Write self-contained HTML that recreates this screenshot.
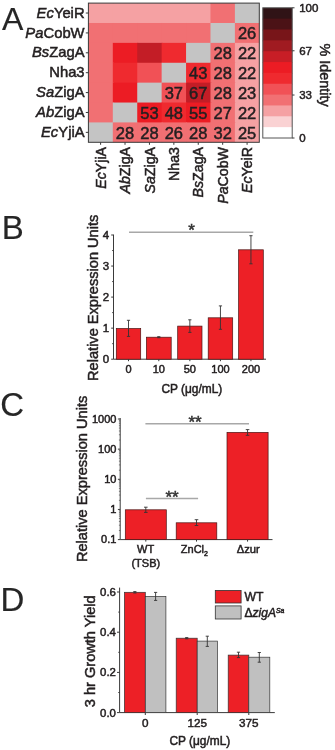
<!DOCTYPE html>
<html><head><meta charset="utf-8"><title>Figure</title>
<style>
html,body{margin:0;padding:0;background:#fff;}
body{width:335px;height:750px;overflow:hidden;}
svg{display:block;font-family:"Liberation Sans", sans-serif;filter:blur(0.35px);}
text{stroke-width:0.5px;}
</style></head>
<body>
<svg width="335" height="750" viewBox="0 0 335 750">
<rect x="0" y="0" width="335" height="750" fill="#ffffff"/>
<text x="2.00" y="30.00" font-size="32" text-anchor="start" fill="#262626" stroke="#262626" style="stroke-width:0.15px">A</text>
<text x="1.80" y="238.60" font-size="33" text-anchor="start" fill="#262626" stroke="#262626" style="stroke-width:0.15px">B</text>
<text x="0.20" y="416.20" font-size="33" text-anchor="start" fill="#262626" stroke="#262626" style="stroke-width:0.15px">C</text>
<text x="0.60" y="610.80" font-size="33" text-anchor="start" fill="#262626" stroke="#262626" style="stroke-width:0.15px">D</text>
<rect x="88.40" y="3.10" width="25.41" height="20.89" fill="#f5a1a3" stroke="none" stroke-width="0"/>
<rect x="112.81" y="3.10" width="25.41" height="20.89" fill="#f5a1a3" stroke="none" stroke-width="0"/>
<rect x="137.23" y="3.10" width="25.41" height="20.89" fill="#f5a1a3" stroke="none" stroke-width="0"/>
<rect x="161.64" y="3.10" width="25.41" height="20.89" fill="#f5a1a3" stroke="none" stroke-width="0"/>
<rect x="186.06" y="3.10" width="25.41" height="20.89" fill="#f5a1a3" stroke="none" stroke-width="0"/>
<rect x="210.47" y="3.10" width="25.41" height="20.89" fill="#f17073" stroke="none" stroke-width="0"/>
<rect x="234.89" y="3.10" width="24.41" height="20.89" fill="#c4c4c4" stroke="none" stroke-width="0"/>
<rect x="88.40" y="22.99" width="25.41" height="20.89" fill="#f17073" stroke="none" stroke-width="0"/>
<rect x="112.81" y="22.99" width="25.41" height="20.89" fill="#f17073" stroke="none" stroke-width="0"/>
<rect x="137.23" y="22.99" width="25.41" height="20.89" fill="#f17073" stroke="none" stroke-width="0"/>
<rect x="161.64" y="22.99" width="25.41" height="20.89" fill="#f17073" stroke="none" stroke-width="0"/>
<rect x="186.06" y="22.99" width="25.41" height="20.89" fill="#f17073" stroke="none" stroke-width="0"/>
<rect x="210.47" y="22.99" width="25.41" height="20.89" fill="#c4c4c4" stroke="none" stroke-width="0"/>
<rect x="234.89" y="22.99" width="24.41" height="20.89" fill="#f17073" stroke="none" stroke-width="0"/>
<rect x="88.40" y="42.87" width="25.41" height="20.89" fill="#f17073" stroke="none" stroke-width="0"/>
<rect x="112.81" y="42.87" width="25.41" height="20.89" fill="#ec1c24" stroke="none" stroke-width="0"/>
<rect x="137.23" y="42.87" width="25.41" height="20.89" fill="#c31d26" stroke="none" stroke-width="0"/>
<rect x="161.64" y="42.87" width="25.41" height="20.89" fill="#ef2a2f" stroke="none" stroke-width="0"/>
<rect x="186.06" y="42.87" width="25.41" height="20.89" fill="#c4c4c4" stroke="none" stroke-width="0"/>
<rect x="210.47" y="42.87" width="25.41" height="20.89" fill="#f17073" stroke="none" stroke-width="0"/>
<rect x="234.89" y="42.87" width="24.41" height="20.89" fill="#f5a1a3" stroke="none" stroke-width="0"/>
<rect x="88.40" y="62.76" width="25.41" height="20.89" fill="#f17073" stroke="none" stroke-width="0"/>
<rect x="112.81" y="62.76" width="25.41" height="20.89" fill="#ef2a2f" stroke="none" stroke-width="0"/>
<rect x="137.23" y="62.76" width="25.41" height="20.89" fill="#f15156" stroke="none" stroke-width="0"/>
<rect x="161.64" y="62.76" width="25.41" height="20.89" fill="#c4c4c4" stroke="none" stroke-width="0"/>
<rect x="186.06" y="62.76" width="25.41" height="20.89" fill="#ef2a2f" stroke="none" stroke-width="0"/>
<rect x="210.47" y="62.76" width="25.41" height="20.89" fill="#f17073" stroke="none" stroke-width="0"/>
<rect x="234.89" y="62.76" width="24.41" height="20.89" fill="#f5a1a3" stroke="none" stroke-width="0"/>
<rect x="88.40" y="82.64" width="25.41" height="20.89" fill="#f17073" stroke="none" stroke-width="0"/>
<rect x="112.81" y="82.64" width="25.41" height="20.89" fill="#ec1c24" stroke="none" stroke-width="0"/>
<rect x="137.23" y="82.64" width="25.41" height="20.89" fill="#c4c4c4" stroke="none" stroke-width="0"/>
<rect x="161.64" y="82.64" width="25.41" height="20.89" fill="#f15156" stroke="none" stroke-width="0"/>
<rect x="186.06" y="82.64" width="25.41" height="20.89" fill="#c31d26" stroke="none" stroke-width="0"/>
<rect x="210.47" y="82.64" width="25.41" height="20.89" fill="#f17073" stroke="none" stroke-width="0"/>
<rect x="234.89" y="82.64" width="24.41" height="20.89" fill="#f5a1a3" stroke="none" stroke-width="0"/>
<rect x="88.40" y="102.53" width="25.41" height="20.89" fill="#f17073" stroke="none" stroke-width="0"/>
<rect x="112.81" y="102.53" width="25.41" height="20.89" fill="#c4c4c4" stroke="none" stroke-width="0"/>
<rect x="137.23" y="102.53" width="25.41" height="20.89" fill="#ec1c24" stroke="none" stroke-width="0"/>
<rect x="161.64" y="102.53" width="25.41" height="20.89" fill="#ef2a2f" stroke="none" stroke-width="0"/>
<rect x="186.06" y="102.53" width="25.41" height="20.89" fill="#ec1c24" stroke="none" stroke-width="0"/>
<rect x="210.47" y="102.53" width="25.41" height="20.89" fill="#f17073" stroke="none" stroke-width="0"/>
<rect x="234.89" y="102.53" width="24.41" height="20.89" fill="#f5a1a3" stroke="none" stroke-width="0"/>
<rect x="88.40" y="122.41" width="25.41" height="19.89" fill="#c4c4c4" stroke="none" stroke-width="0"/>
<rect x="112.81" y="122.41" width="25.41" height="19.89" fill="#f17073" stroke="none" stroke-width="0"/>
<rect x="137.23" y="122.41" width="25.41" height="19.89" fill="#f17073" stroke="none" stroke-width="0"/>
<rect x="161.64" y="122.41" width="25.41" height="19.89" fill="#f17073" stroke="none" stroke-width="0"/>
<rect x="186.06" y="122.41" width="25.41" height="19.89" fill="#f17073" stroke="none" stroke-width="0"/>
<rect x="210.47" y="122.41" width="25.41" height="19.89" fill="#f17073" stroke="none" stroke-width="0"/>
<rect x="234.89" y="122.41" width="24.41" height="19.89" fill="#f5a1a3" stroke="none" stroke-width="0"/>
<text x="247.09" y="39.23" font-size="16.5" text-anchor="middle" fill="#231f20" stroke="#231f20" >26</text>
<text x="222.68" y="59.11" font-size="16.5" text-anchor="middle" fill="#231f20" stroke="#231f20" >28</text>
<text x="247.09" y="59.11" font-size="16.5" text-anchor="middle" fill="#231f20" stroke="#231f20" >22</text>
<text x="198.26" y="79.00" font-size="16.5" text-anchor="middle" fill="#231f20" stroke="#231f20" >43</text>
<text x="222.68" y="79.00" font-size="16.5" text-anchor="middle" fill="#231f20" stroke="#231f20" >28</text>
<text x="247.09" y="79.00" font-size="16.5" text-anchor="middle" fill="#231f20" stroke="#231f20" >22</text>
<text x="173.85" y="98.89" font-size="16.5" text-anchor="middle" fill="#231f20" stroke="#231f20" >37</text>
<text x="198.26" y="98.89" font-size="16.5" text-anchor="middle" fill="#231f20" stroke="#231f20" >67</text>
<text x="222.68" y="98.89" font-size="16.5" text-anchor="middle" fill="#231f20" stroke="#231f20" >28</text>
<text x="247.09" y="98.89" font-size="16.5" text-anchor="middle" fill="#231f20" stroke="#231f20" >23</text>
<text x="149.44" y="118.77" font-size="16.5" text-anchor="middle" fill="#231f20" stroke="#231f20" >53</text>
<text x="173.85" y="118.77" font-size="16.5" text-anchor="middle" fill="#231f20" stroke="#231f20" >48</text>
<text x="198.26" y="118.77" font-size="16.5" text-anchor="middle" fill="#231f20" stroke="#231f20" >55</text>
<text x="222.68" y="118.77" font-size="16.5" text-anchor="middle" fill="#231f20" stroke="#231f20" >27</text>
<text x="247.09" y="118.77" font-size="16.5" text-anchor="middle" fill="#231f20" stroke="#231f20" >22</text>
<text x="125.02" y="138.66" font-size="16.5" text-anchor="middle" fill="#231f20" stroke="#231f20" >28</text>
<text x="149.44" y="138.66" font-size="16.5" text-anchor="middle" fill="#231f20" stroke="#231f20" >28</text>
<text x="173.85" y="138.66" font-size="16.5" text-anchor="middle" fill="#231f20" stroke="#231f20" >26</text>
<text x="198.26" y="138.66" font-size="16.5" text-anchor="middle" fill="#231f20" stroke="#231f20" >28</text>
<text x="222.68" y="138.66" font-size="16.5" text-anchor="middle" fill="#231f20" stroke="#231f20" >32</text>
<text x="247.09" y="138.66" font-size="16.5" text-anchor="middle" fill="#231f20" stroke="#231f20" >25</text>
<rect x="88.40" y="3.10" width="170.90" height="139.20" fill="none" stroke="#3a3a3a" stroke-width="1"/>
<line x1="85.80" y1="13.04" x2="88.40" y2="13.04" stroke="#3a3a3a" stroke-width="1"/>
<text x="84.60" y="17.64" font-size="14.8" text-anchor="end" fill="#231f20" stroke="#231f20" ><tspan font-style="italic">Ec</tspan>YeiR</text>
<line x1="85.80" y1="32.93" x2="88.40" y2="32.93" stroke="#3a3a3a" stroke-width="1"/>
<text x="84.60" y="37.53" font-size="14.8" text-anchor="end" fill="#231f20" stroke="#231f20" ><tspan font-style="italic">Pa</tspan>CobW</text>
<line x1="85.80" y1="52.81" x2="88.40" y2="52.81" stroke="#3a3a3a" stroke-width="1"/>
<text x="84.60" y="57.41" font-size="14.8" text-anchor="end" fill="#231f20" stroke="#231f20" ><tspan font-style="italic">Bs</tspan>ZagA</text>
<line x1="85.80" y1="72.70" x2="88.40" y2="72.70" stroke="#3a3a3a" stroke-width="1"/>
<text x="84.60" y="77.30" font-size="14.8" text-anchor="end" fill="#231f20" stroke="#231f20" >Nha3</text>
<line x1="85.80" y1="92.59" x2="88.40" y2="92.59" stroke="#3a3a3a" stroke-width="1"/>
<text x="84.60" y="97.19" font-size="14.8" text-anchor="end" fill="#231f20" stroke="#231f20" ><tspan font-style="italic">Sa</tspan>ZigA</text>
<line x1="85.80" y1="112.47" x2="88.40" y2="112.47" stroke="#3a3a3a" stroke-width="1"/>
<text x="84.60" y="117.07" font-size="14.8" text-anchor="end" fill="#231f20" stroke="#231f20" ><tspan font-style="italic">Ab</tspan>ZigA</text>
<line x1="85.80" y1="132.36" x2="88.40" y2="132.36" stroke="#3a3a3a" stroke-width="1"/>
<text x="84.60" y="136.96" font-size="14.8" text-anchor="end" fill="#231f20" stroke="#231f20" ><tspan font-style="italic">Ec</tspan>YjiA</text>
<line x1="100.61" y1="142.30" x2="100.61" y2="144.80" stroke="#3a3a3a" stroke-width="1"/>
<text transform="translate(105.81,147.00) rotate(-90)" font-size="14.2" text-anchor="end" fill="#231f20" stroke="#231f20"><tspan font-style="italic">Ec</tspan>YjiA</text>
<line x1="125.02" y1="142.30" x2="125.02" y2="144.80" stroke="#3a3a3a" stroke-width="1"/>
<text transform="translate(130.22,147.00) rotate(-90)" font-size="14.2" text-anchor="end" fill="#231f20" stroke="#231f20"><tspan font-style="italic">Ab</tspan>ZigA</text>
<line x1="149.44" y1="142.30" x2="149.44" y2="144.80" stroke="#3a3a3a" stroke-width="1"/>
<text transform="translate(154.64,147.00) rotate(-90)" font-size="14.2" text-anchor="end" fill="#231f20" stroke="#231f20"><tspan font-style="italic">Sa</tspan>ZigA</text>
<line x1="173.85" y1="142.30" x2="173.85" y2="144.80" stroke="#3a3a3a" stroke-width="1"/>
<text transform="translate(179.05,147.00) rotate(-90)" font-size="14.2" text-anchor="end" fill="#231f20" stroke="#231f20">Nha3</text>
<line x1="198.26" y1="142.30" x2="198.26" y2="144.80" stroke="#3a3a3a" stroke-width="1"/>
<text transform="translate(203.46,147.00) rotate(-90)" font-size="14.2" text-anchor="end" fill="#231f20" stroke="#231f20"><tspan font-style="italic">Bs</tspan>ZagA</text>
<line x1="222.68" y1="142.30" x2="222.68" y2="144.80" stroke="#3a3a3a" stroke-width="1"/>
<text transform="translate(227.88,147.00) rotate(-90)" font-size="14.2" text-anchor="end" fill="#231f20" stroke="#231f20"><tspan font-style="italic">Pa</tspan>CobW</text>
<line x1="247.09" y1="142.30" x2="247.09" y2="144.80" stroke="#3a3a3a" stroke-width="1"/>
<text transform="translate(252.29,147.00) rotate(-90)" font-size="14.2" text-anchor="end" fill="#231f20" stroke="#231f20"><tspan font-style="italic">Ec</tspan>YeiR</text>
<rect x="262.80" y="7.80" width="29.40" height="11.85" fill="#301316" stroke="none" stroke-width="0"/>
<rect x="262.80" y="18.65" width="29.40" height="11.85" fill="#4b1216" stroke="none" stroke-width="0"/>
<rect x="262.80" y="29.50" width="29.40" height="11.85" fill="#781519" stroke="none" stroke-width="0"/>
<rect x="262.80" y="40.35" width="29.40" height="11.85" fill="#a01b21" stroke="none" stroke-width="0"/>
<rect x="262.80" y="51.20" width="29.40" height="11.85" fill="#c81e26" stroke="none" stroke-width="0"/>
<rect x="262.80" y="62.05" width="29.40" height="11.85" fill="#ec1c24" stroke="none" stroke-width="0"/>
<rect x="262.80" y="72.90" width="29.40" height="11.85" fill="#ef2a2f" stroke="none" stroke-width="0"/>
<rect x="262.80" y="83.75" width="29.40" height="11.85" fill="#f15156" stroke="none" stroke-width="0"/>
<rect x="262.80" y="94.60" width="29.40" height="11.85" fill="#f17073" stroke="none" stroke-width="0"/>
<rect x="262.80" y="105.45" width="29.40" height="11.85" fill="#f5a1a3" stroke="none" stroke-width="0"/>
<rect x="262.80" y="116.30" width="29.40" height="11.85" fill="#fad2d3" stroke="none" stroke-width="0"/>
<rect x="262.80" y="127.15" width="29.40" height="10.85" fill="#ffffff" stroke="none" stroke-width="0"/>
<rect x="262.80" y="7.80" width="29.40" height="130.20" fill="none" stroke="#555555" stroke-width="1"/>
<line x1="292.20" y1="7.80" x2="294.50" y2="7.80" stroke="#3a3a3a" stroke-width="1"/>
<text x="299.20" y="11.90" font-size="11.5" text-anchor="start" fill="#231f20" stroke="#231f20" >100</text>
<line x1="292.20" y1="50.77" x2="294.50" y2="50.77" stroke="#3a3a3a" stroke-width="1"/>
<text x="299.20" y="54.87" font-size="11.5" text-anchor="start" fill="#231f20" stroke="#231f20" >67</text>
<line x1="292.20" y1="95.03" x2="294.50" y2="95.03" stroke="#3a3a3a" stroke-width="1"/>
<text x="299.20" y="99.13" font-size="11.5" text-anchor="start" fill="#231f20" stroke="#231f20" >33</text>
<line x1="292.20" y1="138.00" x2="294.50" y2="138.00" stroke="#3a3a3a" stroke-width="1"/>
<text x="299.20" y="142.10" font-size="11.5" text-anchor="start" fill="#231f20" stroke="#231f20" >0</text>
<text transform="translate(320.2,75.0) rotate(90)" font-size="14.4" text-anchor="middle" fill="#231f20" stroke="#231f20">% Identity</text>
<line x1="113.50" y1="234.60" x2="113.50" y2="359.20" stroke="#3a3a3a" stroke-width="1"/>
<line x1="113.50" y1="359.20" x2="266.00" y2="359.20" stroke="#3a3a3a" stroke-width="1"/>
<line x1="111.20" y1="359.20" x2="113.50" y2="359.20" stroke="#3a3a3a" stroke-width="1"/>
<text x="109.20" y="363.20" font-size="11.5" text-anchor="end" fill="#231f20" stroke="#231f20" >0</text>
<line x1="111.20" y1="328.15" x2="113.50" y2="328.15" stroke="#3a3a3a" stroke-width="1"/>
<text x="109.20" y="332.15" font-size="11.5" text-anchor="end" fill="#231f20" stroke="#231f20" >1</text>
<line x1="111.20" y1="297.10" x2="113.50" y2="297.10" stroke="#3a3a3a" stroke-width="1"/>
<text x="109.20" y="301.10" font-size="11.5" text-anchor="end" fill="#231f20" stroke="#231f20" >2</text>
<line x1="111.20" y1="266.05" x2="113.50" y2="266.05" stroke="#3a3a3a" stroke-width="1"/>
<text x="109.20" y="270.05" font-size="11.5" text-anchor="end" fill="#231f20" stroke="#231f20" >3</text>
<line x1="111.20" y1="235.00" x2="113.50" y2="235.00" stroke="#3a3a3a" stroke-width="1"/>
<text x="109.20" y="239.00" font-size="11.5" text-anchor="end" fill="#231f20" stroke="#231f20" >4</text>
<line x1="112.20" y1="343.68" x2="113.50" y2="343.68" stroke="#3a3a3a" stroke-width="1"/>
<line x1="112.20" y1="312.62" x2="113.50" y2="312.62" stroke="#3a3a3a" stroke-width="1"/>
<line x1="112.20" y1="281.57" x2="113.50" y2="281.57" stroke="#3a3a3a" stroke-width="1"/>
<line x1="112.20" y1="250.52" x2="113.50" y2="250.52" stroke="#3a3a3a" stroke-width="1"/>
<rect x="116.30" y="328.50" width="24.40" height="30.70" fill="#ed2026" stroke="#4a1515" stroke-width="0.7"/>
<rect x="146.40" y="337.20" width="24.80" height="22.00" fill="#ed2026" stroke="#4a1515" stroke-width="0.7"/>
<rect x="177.70" y="326.10" width="24.30" height="33.10" fill="#ed2026" stroke="#4a1515" stroke-width="0.7"/>
<rect x="208.20" y="317.80" width="24.50" height="41.40" fill="#ed2026" stroke="#4a1515" stroke-width="0.7"/>
<rect x="238.60" y="249.80" width="24.70" height="109.40" fill="#ed2026" stroke="#4a1515" stroke-width="0.7"/>
<line x1="128.50" y1="320.30" x2="128.50" y2="336.40" stroke="#333" stroke-width="0.9"/>
<line x1="126.90" y1="320.30" x2="130.10" y2="320.30" stroke="#333" stroke-width="0.9"/>
<line x1="126.90" y1="336.40" x2="130.10" y2="336.40" stroke="#333" stroke-width="0.9"/>
<line x1="128.50" y1="359.20" x2="128.50" y2="361.20" stroke="#3a3a3a" stroke-width="1"/>
<line x1="158.80" y1="336.70" x2="158.80" y2="337.70" stroke="#333" stroke-width="0.9"/>
<line x1="157.20" y1="336.70" x2="160.40" y2="336.70" stroke="#333" stroke-width="0.9"/>
<line x1="157.20" y1="337.70" x2="160.40" y2="337.70" stroke="#333" stroke-width="0.9"/>
<line x1="158.80" y1="359.20" x2="158.80" y2="361.20" stroke="#3a3a3a" stroke-width="1"/>
<line x1="189.85" y1="319.80" x2="189.85" y2="332.40" stroke="#333" stroke-width="0.9"/>
<line x1="188.25" y1="319.80" x2="191.45" y2="319.80" stroke="#333" stroke-width="0.9"/>
<line x1="188.25" y1="332.40" x2="191.45" y2="332.40" stroke="#333" stroke-width="0.9"/>
<line x1="189.85" y1="359.20" x2="189.85" y2="361.20" stroke="#3a3a3a" stroke-width="1"/>
<line x1="220.45" y1="305.90" x2="220.45" y2="329.30" stroke="#333" stroke-width="0.9"/>
<line x1="218.85" y1="305.90" x2="222.05" y2="305.90" stroke="#333" stroke-width="0.9"/>
<line x1="218.85" y1="329.30" x2="222.05" y2="329.30" stroke="#333" stroke-width="0.9"/>
<line x1="220.45" y1="359.20" x2="220.45" y2="361.20" stroke="#3a3a3a" stroke-width="1"/>
<line x1="250.95" y1="235.70" x2="250.95" y2="263.80" stroke="#333" stroke-width="0.9"/>
<line x1="249.35" y1="235.70" x2="252.55" y2="235.70" stroke="#333" stroke-width="0.9"/>
<line x1="249.35" y1="263.80" x2="252.55" y2="263.80" stroke="#333" stroke-width="0.9"/>
<line x1="250.95" y1="359.20" x2="250.95" y2="361.20" stroke="#3a3a3a" stroke-width="1"/>
<text x="128.50" y="373.30" font-size="11" text-anchor="middle" fill="#231f20" stroke="#231f20" >0</text>
<text x="158.80" y="373.30" font-size="11" text-anchor="middle" fill="#231f20" stroke="#231f20" >10</text>
<text x="189.85" y="373.30" font-size="11" text-anchor="middle" fill="#231f20" stroke="#231f20" >50</text>
<text x="220.45" y="373.30" font-size="11" text-anchor="middle" fill="#231f20" stroke="#231f20" >100</text>
<text x="250.95" y="373.30" font-size="11" text-anchor="middle" fill="#231f20" stroke="#231f20" >200</text>
<line x1="129.00" y1="232.30" x2="253.30" y2="232.30" stroke="#a8a8a8" stroke-width="1.5"/>
<text x="191.50" y="235.90" font-size="17" text-anchor="middle" fill="#333" stroke="#333" >*</text>
<text x="191.80" y="392.80" font-size="11.9" text-anchor="middle" fill="#231f20" stroke="#231f20" >CP (&#956;g/mL)</text>
<text transform="translate(98.4,297.8) rotate(-90)" font-size="14.6" text-anchor="middle" fill="#231f20" stroke="#231f20">Relative Expression Units</text>
<line x1="120.20" y1="418.00" x2="120.20" y2="539.60" stroke="#3a3a3a" stroke-width="1"/>
<line x1="120.20" y1="539.60" x2="272.50" y2="539.60" stroke="#3a3a3a" stroke-width="1"/>
<line x1="117.90" y1="419.00" x2="120.20" y2="419.00" stroke="#3a3a3a" stroke-width="1"/>
<text x="116.40" y="422.80" font-size="11" text-anchor="end" fill="#231f20" stroke="#231f20" >1000</text>
<line x1="117.90" y1="449.15" x2="120.20" y2="449.15" stroke="#3a3a3a" stroke-width="1"/>
<text x="116.40" y="452.95" font-size="11" text-anchor="end" fill="#231f20" stroke="#231f20" >100</text>
<line x1="117.90" y1="479.30" x2="120.20" y2="479.30" stroke="#3a3a3a" stroke-width="1"/>
<text x="116.40" y="483.10" font-size="11" text-anchor="end" fill="#231f20" stroke="#231f20" >10</text>
<line x1="117.90" y1="509.45" x2="120.20" y2="509.45" stroke="#3a3a3a" stroke-width="1"/>
<text x="116.40" y="513.25" font-size="11" text-anchor="end" fill="#231f20" stroke="#231f20" >1</text>
<line x1="117.90" y1="539.60" x2="120.20" y2="539.60" stroke="#3a3a3a" stroke-width="1"/>
<text x="116.40" y="543.40" font-size="11" text-anchor="end" fill="#231f20" stroke="#231f20" >0.1</text>
<line x1="118.90" y1="530.52" x2="120.20" y2="530.52" stroke="#3a3a3a" stroke-width="0.6"/>
<line x1="118.90" y1="525.21" x2="120.20" y2="525.21" stroke="#3a3a3a" stroke-width="0.6"/>
<line x1="118.90" y1="521.45" x2="120.20" y2="521.45" stroke="#3a3a3a" stroke-width="0.6"/>
<line x1="118.90" y1="518.53" x2="120.20" y2="518.53" stroke="#3a3a3a" stroke-width="0.6"/>
<line x1="118.90" y1="516.14" x2="120.20" y2="516.14" stroke="#3a3a3a" stroke-width="0.6"/>
<line x1="118.90" y1="514.12" x2="120.20" y2="514.12" stroke="#3a3a3a" stroke-width="0.6"/>
<line x1="118.90" y1="512.37" x2="120.20" y2="512.37" stroke="#3a3a3a" stroke-width="0.6"/>
<line x1="118.90" y1="510.83" x2="120.20" y2="510.83" stroke="#3a3a3a" stroke-width="0.6"/>
<line x1="118.90" y1="500.37" x2="120.20" y2="500.37" stroke="#3a3a3a" stroke-width="0.6"/>
<line x1="118.90" y1="495.06" x2="120.20" y2="495.06" stroke="#3a3a3a" stroke-width="0.6"/>
<line x1="118.90" y1="491.30" x2="120.20" y2="491.30" stroke="#3a3a3a" stroke-width="0.6"/>
<line x1="118.90" y1="488.38" x2="120.20" y2="488.38" stroke="#3a3a3a" stroke-width="0.6"/>
<line x1="118.90" y1="485.99" x2="120.20" y2="485.99" stroke="#3a3a3a" stroke-width="0.6"/>
<line x1="118.90" y1="483.97" x2="120.20" y2="483.97" stroke="#3a3a3a" stroke-width="0.6"/>
<line x1="118.90" y1="482.22" x2="120.20" y2="482.22" stroke="#3a3a3a" stroke-width="0.6"/>
<line x1="118.90" y1="480.68" x2="120.20" y2="480.68" stroke="#3a3a3a" stroke-width="0.6"/>
<line x1="118.90" y1="470.22" x2="120.20" y2="470.22" stroke="#3a3a3a" stroke-width="0.6"/>
<line x1="118.90" y1="464.91" x2="120.20" y2="464.91" stroke="#3a3a3a" stroke-width="0.6"/>
<line x1="118.90" y1="461.15" x2="120.20" y2="461.15" stroke="#3a3a3a" stroke-width="0.6"/>
<line x1="118.90" y1="458.23" x2="120.20" y2="458.23" stroke="#3a3a3a" stroke-width="0.6"/>
<line x1="118.90" y1="455.84" x2="120.20" y2="455.84" stroke="#3a3a3a" stroke-width="0.6"/>
<line x1="118.90" y1="453.82" x2="120.20" y2="453.82" stroke="#3a3a3a" stroke-width="0.6"/>
<line x1="118.90" y1="452.07" x2="120.20" y2="452.07" stroke="#3a3a3a" stroke-width="0.6"/>
<line x1="118.90" y1="450.53" x2="120.20" y2="450.53" stroke="#3a3a3a" stroke-width="0.6"/>
<line x1="118.90" y1="440.07" x2="120.20" y2="440.07" stroke="#3a3a3a" stroke-width="0.6"/>
<line x1="118.90" y1="434.76" x2="120.20" y2="434.76" stroke="#3a3a3a" stroke-width="0.6"/>
<line x1="118.90" y1="431.00" x2="120.20" y2="431.00" stroke="#3a3a3a" stroke-width="0.6"/>
<line x1="118.90" y1="428.08" x2="120.20" y2="428.08" stroke="#3a3a3a" stroke-width="0.6"/>
<line x1="118.90" y1="425.69" x2="120.20" y2="425.69" stroke="#3a3a3a" stroke-width="0.6"/>
<line x1="118.90" y1="423.67" x2="120.20" y2="423.67" stroke="#3a3a3a" stroke-width="0.6"/>
<line x1="118.90" y1="421.92" x2="120.20" y2="421.92" stroke="#3a3a3a" stroke-width="0.6"/>
<line x1="118.90" y1="420.38" x2="120.20" y2="420.38" stroke="#3a3a3a" stroke-width="0.6"/>
<rect x="125.30" y="509.80" width="41.00" height="29.80" fill="#ed2026" stroke="#4a1515" stroke-width="0.7"/>
<rect x="176.20" y="522.80" width="40.60" height="16.80" fill="#ed2026" stroke="#4a1515" stroke-width="0.7"/>
<rect x="227.00" y="432.40" width="41.10" height="107.20" fill="#ed2026" stroke="#4a1515" stroke-width="0.7"/>
<line x1="145.80" y1="507.20" x2="145.80" y2="512.40" stroke="#333" stroke-width="0.9"/>
<line x1="144.00" y1="507.20" x2="147.60" y2="507.20" stroke="#333" stroke-width="0.9"/>
<line x1="144.00" y1="512.40" x2="147.60" y2="512.40" stroke="#333" stroke-width="0.9"/>
<line x1="145.80" y1="539.60" x2="145.80" y2="541.60" stroke="#3a3a3a" stroke-width="1"/>
<line x1="196.50" y1="519.70" x2="196.50" y2="525.50" stroke="#333" stroke-width="0.9"/>
<line x1="194.70" y1="519.70" x2="198.30" y2="519.70" stroke="#333" stroke-width="0.9"/>
<line x1="194.70" y1="525.50" x2="198.30" y2="525.50" stroke="#333" stroke-width="0.9"/>
<line x1="196.50" y1="539.60" x2="196.50" y2="541.60" stroke="#3a3a3a" stroke-width="1"/>
<line x1="247.55" y1="429.60" x2="247.55" y2="435.30" stroke="#333" stroke-width="0.9"/>
<line x1="245.75" y1="429.60" x2="249.35" y2="429.60" stroke="#333" stroke-width="0.9"/>
<line x1="245.75" y1="435.30" x2="249.35" y2="435.30" stroke="#333" stroke-width="0.9"/>
<line x1="247.55" y1="539.60" x2="247.55" y2="541.60" stroke="#3a3a3a" stroke-width="1"/>
<text x="145.60" y="553.40" font-size="11" text-anchor="middle" fill="#231f20" stroke="#231f20" >WT</text>
<text x="145.80" y="566.50" font-size="11" text-anchor="middle" fill="#231f20" stroke="#231f20" >(TSB)</text>
<text x="194.40" y="553.40" font-size="11" text-anchor="middle" fill="#231f20" stroke="#231f20" >ZnCl<tspan font-size="7" dy="2.8">2</tspan></text>
<text x="248.20" y="553.40" font-size="11.2" text-anchor="middle" fill="#231f20" stroke="#231f20" >&#916;zur</text>
<line x1="145.40" y1="423.80" x2="249.00" y2="423.80" stroke="#a8a8a8" stroke-width="1.5"/>
<line x1="145.90" y1="498.40" x2="198.10" y2="498.40" stroke="#a8a8a8" stroke-width="1.5"/>
<text x="195.00" y="427.80" font-size="17" text-anchor="middle" fill="#333" stroke="#333" >**</text>
<text x="172.10" y="503.10" font-size="17" text-anchor="middle" fill="#333" stroke="#333" >**</text>
<text transform="translate(87.3,478.9) rotate(-90)" font-size="14.6" text-anchor="middle" fill="#231f20" stroke="#231f20">Relative Expression Units</text>
<line x1="119.60" y1="587.60" x2="119.60" y2="712.60" stroke="#3a3a3a" stroke-width="1"/>
<line x1="119.60" y1="712.60" x2="274.80" y2="712.60" stroke="#3a3a3a" stroke-width="1"/>
<line x1="117.00" y1="592.00" x2="119.60" y2="592.00" stroke="#3a3a3a" stroke-width="1"/>
<text x="115.90" y="596.00" font-size="11.4" text-anchor="end" fill="#231f20" stroke="#231f20" >0.6</text>
<line x1="117.00" y1="632.20" x2="119.60" y2="632.20" stroke="#3a3a3a" stroke-width="1"/>
<text x="115.90" y="636.20" font-size="11.4" text-anchor="end" fill="#231f20" stroke="#231f20" >0.4</text>
<line x1="117.00" y1="672.40" x2="119.60" y2="672.40" stroke="#3a3a3a" stroke-width="1"/>
<text x="115.90" y="676.40" font-size="11.4" text-anchor="end" fill="#231f20" stroke="#231f20" >0.2</text>
<line x1="117.00" y1="712.60" x2="119.60" y2="712.60" stroke="#3a3a3a" stroke-width="1"/>
<text x="115.90" y="716.60" font-size="11.4" text-anchor="end" fill="#231f20" stroke="#231f20" >0.0</text>
<line x1="118.30" y1="692.50" x2="119.60" y2="692.50" stroke="#3a3a3a" stroke-width="1"/>
<line x1="118.30" y1="652.30" x2="119.60" y2="652.30" stroke="#3a3a3a" stroke-width="1"/>
<line x1="118.30" y1="612.10" x2="119.60" y2="612.10" stroke="#3a3a3a" stroke-width="1"/>
<rect x="124.40" y="592.30" width="20.90" height="120.30" fill="#ed2026" stroke="#333333" stroke-width="0.7"/>
<rect x="145.30" y="596.40" width="20.60" height="116.20" fill="#c0c0c0" stroke="#333333" stroke-width="0.7"/>
<rect x="176.20" y="638.20" width="21.00" height="74.40" fill="#ed2026" stroke="#333333" stroke-width="0.7"/>
<rect x="197.20" y="641.10" width="20.20" height="71.50" fill="#c0c0c0" stroke="#333333" stroke-width="0.7"/>
<rect x="228.20" y="655.10" width="20.60" height="57.50" fill="#ed2026" stroke="#333333" stroke-width="0.7"/>
<rect x="248.80" y="657.20" width="21.00" height="55.40" fill="#c0c0c0" stroke="#333333" stroke-width="0.7"/>
<line x1="134.85" y1="591.60" x2="134.85" y2="593.00" stroke="#333" stroke-width="0.9"/>
<line x1="133.25" y1="591.60" x2="136.45" y2="591.60" stroke="#333" stroke-width="0.9"/>
<line x1="133.25" y1="593.00" x2="136.45" y2="593.00" stroke="#333" stroke-width="0.9"/>
<line x1="155.60" y1="592.40" x2="155.60" y2="600.40" stroke="#333" stroke-width="0.9"/>
<line x1="154.00" y1="592.40" x2="157.20" y2="592.40" stroke="#333" stroke-width="0.9"/>
<line x1="154.00" y1="600.40" x2="157.20" y2="600.40" stroke="#333" stroke-width="0.9"/>
<line x1="186.70" y1="637.60" x2="186.70" y2="638.80" stroke="#333" stroke-width="0.9"/>
<line x1="185.10" y1="637.60" x2="188.30" y2="637.60" stroke="#333" stroke-width="0.9"/>
<line x1="185.10" y1="638.80" x2="188.30" y2="638.80" stroke="#333" stroke-width="0.9"/>
<line x1="207.30" y1="636.20" x2="207.30" y2="646.40" stroke="#333" stroke-width="0.9"/>
<line x1="205.70" y1="636.20" x2="208.90" y2="636.20" stroke="#333" stroke-width="0.9"/>
<line x1="205.70" y1="646.40" x2="208.90" y2="646.40" stroke="#333" stroke-width="0.9"/>
<line x1="238.50" y1="652.20" x2="238.50" y2="657.60" stroke="#333" stroke-width="0.9"/>
<line x1="236.90" y1="652.20" x2="240.10" y2="652.20" stroke="#333" stroke-width="0.9"/>
<line x1="236.90" y1="657.60" x2="240.10" y2="657.60" stroke="#333" stroke-width="0.9"/>
<line x1="259.30" y1="652.50" x2="259.30" y2="662.20" stroke="#333" stroke-width="0.9"/>
<line x1="257.70" y1="652.50" x2="260.90" y2="652.50" stroke="#333" stroke-width="0.9"/>
<line x1="257.70" y1="662.20" x2="260.90" y2="662.20" stroke="#333" stroke-width="0.9"/>
<line x1="145.30" y1="712.60" x2="145.30" y2="715.00" stroke="#3a3a3a" stroke-width="1"/>
<text x="145.30" y="726.50" font-size="11.7" text-anchor="middle" fill="#231f20" stroke="#231f20" >0</text>
<line x1="197.20" y1="712.60" x2="197.20" y2="715.00" stroke="#3a3a3a" stroke-width="1"/>
<text x="197.20" y="726.50" font-size="11.7" text-anchor="middle" fill="#231f20" stroke="#231f20" >125</text>
<line x1="248.80" y1="712.60" x2="248.80" y2="715.00" stroke="#3a3a3a" stroke-width="1"/>
<text x="248.80" y="726.50" font-size="11.7" text-anchor="middle" fill="#231f20" stroke="#231f20" >375</text>
<text x="199.80" y="745.20" font-size="11.9" text-anchor="middle" fill="#231f20" stroke="#231f20" >CP (&#956;g/mL)</text>
<rect x="215.30" y="590.40" width="25.80" height="12.60" fill="#ed2026" stroke="#333333" stroke-width="0.8"/>
<rect x="215.30" y="605.90" width="25.80" height="13.10" fill="#c0c0c0" stroke="#333333" stroke-width="0.8"/>
<text x="244.40" y="601.00" font-size="12.2" text-anchor="start" fill="#231f20" stroke="#231f20" >WT</text>
<text x="244.60" y="616.70" font-size="12" text-anchor="start" fill="#231f20" stroke="#231f20" >&#916;<tspan font-style="italic">zigA</tspan><tspan font-style="italic" font-size="6.8" dy="-3.7">Sa</tspan></text>
<text transform="translate(95.2,651.3) rotate(-90)" font-size="14.6" text-anchor="middle" fill="#231f20" stroke="#231f20">3 hr Growth Yield</text>
</svg>
</body></html>
